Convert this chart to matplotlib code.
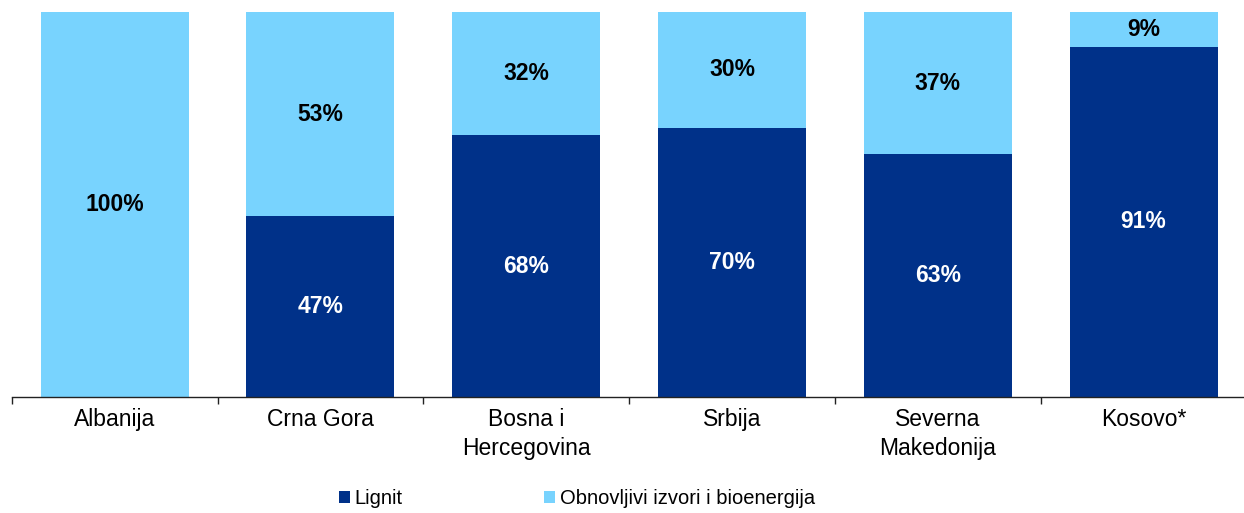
import numpy as np
import matplotlib.pyplot as plt
from matplotlib.patches import Patch

# data
categories = ["Albanija", "Crna Gora", "Bosna i\nHercegovina", "Srbija",
              "Severna\nMakedonija", "Kosovo*"]
lignit = [0, 47, 68, 70, 63, 91]
obnovljivi = [100, 53, 32, 30, 37, 9]
series_names = ["Lignit", "Obnovljivi izvori i bioenergija"]

dark = "#003189"
light = "#78D3FE"

plt.rcParams["font.family"] = ["Liberation Sans", "DejaVu Sans"]

fig = plt.figure(figsize=(12.44, 5.13), dpi=100)
ax = fig.add_axes([11.7 / 1244, 116 / 513, 1234.8 / 1244, 385 / 513])

x = np.arange(len(categories))
w = 0.72
ax.bar(x, lignit, w, color=dark)
ax.bar(x, obnovljivi, w, bottom=lignit, color=light)

# value labels in the middle of each segment
for i in range(len(categories)):
    if lignit[i] > 0:
        ax.text(x[i], lignit[i] / 2, f"{lignit[i]}%", ha="center", va="center",
                color="white", fontsize=16.5, fontweight="bold")
    if obnovljivi[i] > 0:
        ax.text(x[i], lignit[i] + obnovljivi[i] / 2, f"{obnovljivi[i]}%",
                ha="center", va="center", color="black", fontsize=16.5,
                fontweight="bold")

ax.set_xlim(-0.5, len(categories) - 0.5)
ax.set_ylim(0, 100)
ax.set_yticks([])
for s in ["top", "right", "left"]:
    ax.spines[s].set_visible(False)
ax.spines["bottom"].set_color("#222222")
ax.spines["bottom"].set_linewidth(1.0)

ax.set_xticks(x)
ax.set_xticklabels(categories, fontsize=16.5, linespacing=1.3)
ax.set_xticks(np.arange(-0.5, len(categories)), minor=True)
ax.tick_params(axis="x", which="major", length=0, pad=8)
ax.tick_params(axis="x", which="minor", length=5, width=1.0, color="#222222",
               direction="out")

handles = [Patch(facecolor=dark), Patch(facecolor=light)]
fig.legend(handles, series_names, loc="center", bbox_to_anchor=(0.4638, 0.028),
           ncol=2, frameon=False, fontsize=14.5, handlelength=0.55,
           handleheight=0.55, handletextpad=0.25, columnspacing=7.0)

fig.savefig("out.png", dpi=100)
